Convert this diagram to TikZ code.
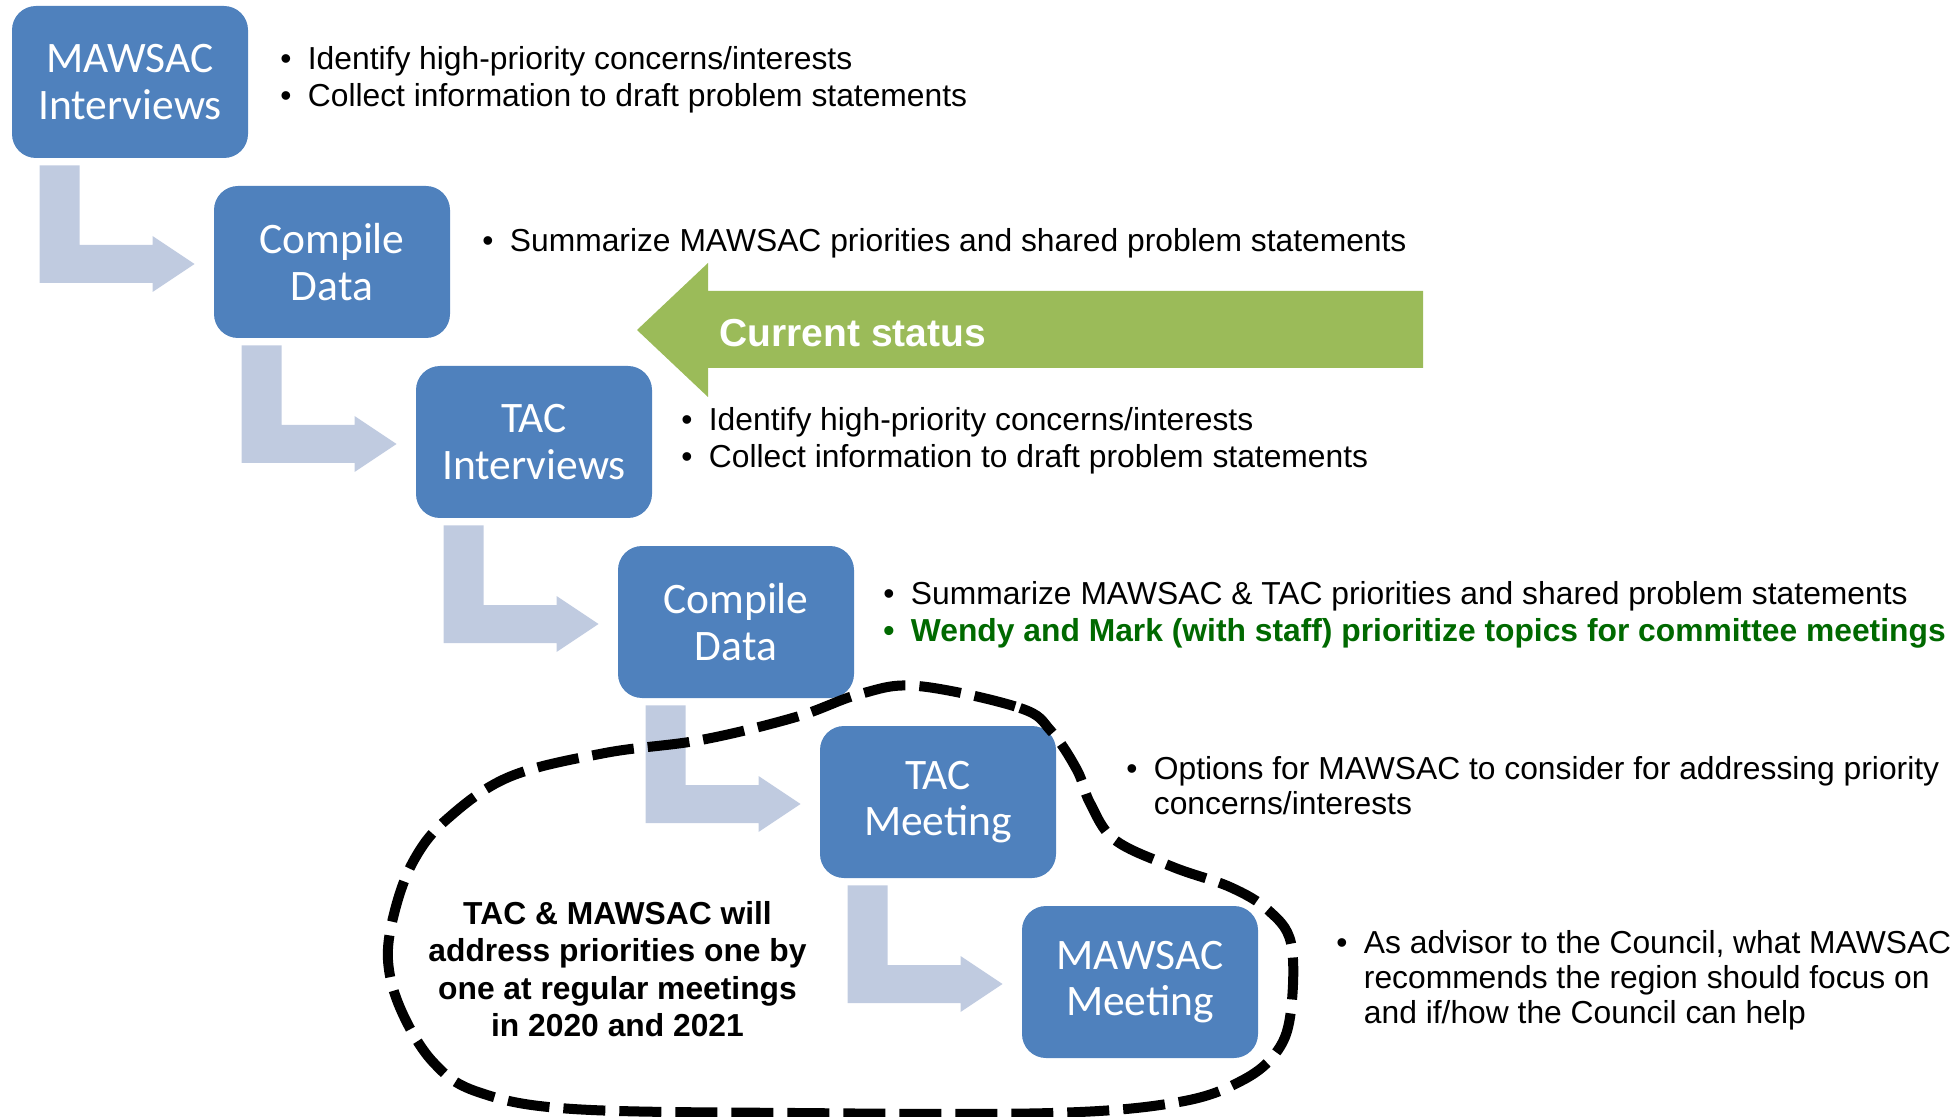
\documentclass[tikz,border=0pt]{standalone}
\usepackage{fontspec}
\setmainfont{Liberation Sans}
\newfontfamily\carlito{Carlito}
\usetikzlibrary{calc}
\definecolor{boxblue}{RGB}{79,129,189}
\definecolor{arrowgray}{RGB}{192,203,224}
\definecolor{statusgreen}{RGB}{155,187,89}
\definecolor{darkgreen}{RGB}{0,105,0}
\newcommand\bul{\makebox[13.75pt][l]{\textbullet}}
\newcommand\hang{\hspace*{13.75pt}}
\newcommand\bentarrow[2]{%
  \fill[arrowgray] let \p1=(#1.south west), \p2=(#2.west) in
  (\x1+14pt,\y1-3.5pt) -- (\x1+34pt,\y1-3.5pt) -- (\x1+34pt,\y2+8.5pt)
  -- (\x2-30.5pt,\y2+8.5pt) -- (\x2-30.5pt,\y2+13pt) -- (\x2-9.5pt,\y2-1pt)
  -- (\x2-30.5pt,\y2-15pt) -- (\x2-30.5pt,\y2-10.5pt) -- (\x1+14pt,\y2-10.5pt) -- cycle;}
\tikzset{
  stepnode/.style={rectangle, rounded corners=12pt, fill=boxblue, text=white,
    minimum width=118pt, minimum height=76pt, inner sep=0pt, align=center,
    font=\carlito\fontsize{21.75}{23.25}\selectfont},
  bullettext/.style={anchor=west, inner sep=0pt, align=left,
    font=\fontsize{15.9}{18.75}\selectfont},
  bullettight/.style={bullettext, font=\fontsize{15.9}{17.5}\selectfont},
  blob/.style={line width=5pt, dash pattern=on 21pt off 7pt},
}
\begin{document}
\begin{tikzpicture}[x=0.5pt,y=-0.5pt]
\useasboundingbox (0,0) rectangle (1960,1117);
% step boxes
\node[stepnode] (b1) at (130,82)  {MAWSAC\\Interviews};
\node[stepnode] (b2) at (332,262) {Compile\\Data};
\node[stepnode] (b3) at (534,442) {TAC\\Interviews};
\node[stepnode] (b4) at (736,622) {Compile\\Data};
\node[stepnode] (b5) at (938,802) {TAC\\Meeting};
\node[stepnode] (b6) at (1140,982) {MAWSAC\\Meeting};
% bent arrows
\bentarrow{b1}{b2}
\bentarrow{b2}{b3}
\bentarrow{b3}{b4}
\bentarrow{b4}{b5}
\bentarrow{b5}{b6}
% current status arrow
\fill[statusgreen] (1423,291) -- (708,291) -- (708,263) -- (637,330) -- (708,397)
  -- (708,368) -- (1423,368) -- cycle;
\node[anchor=west, inner sep=0pt, text=white, font=\bfseries\fontsize{19.5}{22}\selectfont]
  (status) at (719,333) {Current status};
% bullet texts
\node[bullettext] (t1) at (280,80) {\bul Identify high-priority concerns/interests\\\bul Collect information to draft problem statements};
\node[bullettext] (t2) at (482,243) {\bul Summarize MAWSAC priorities and shared problem statements};
\node[bullettext] (t3) at (681,441) {\bul Identify high-priority concerns/interests\\\bul Collect information to draft problem statements};
\node[bullettext] (t4) at (883,615) {\bul Summarize MAWSAC \& TAC priorities and shared problem statements\\{\color{darkgreen}\bfseries\bul Wendy and Mark (with staff) prioritize topics for committee meetings}};
\node[bullettight] (t5) at (1126,786) {\bul Options for MAWSAC to consider for addressing priority\\\hang concerns/interests};
\node[bullettight] (t6) at (1336,980) {\bul As advisor to the Council, what MAWSAC\\\hang recommends the region should focus on\\\hang and if/how the Council can help};
% dashed grouping
\draw[blob] plot[smooth cycle, tension=0.6] coordinates {
 (918,686) (1020,708) (1051,731) (1077,770) (1090,803) (1115,840) (1173,867)
 (1230,887) (1268,910) (1291,943) (1291,1010) (1278,1050) (1243,1080) (1179,1102)
 (1052,1113) (796,1113) (573,1109) (478,1092) (433,1062) (401,1010) (388,960)
 (395,910) (414,860) (446,820) (509,777) (605,753) (701,740) (796,717) (860,694)};
\node[align=center, inner sep=0pt, font=\bfseries\fontsize{15.9}{18.75}\selectfont]
  (group) at (617.5,969) {TAC \& MAWSAC will\\address priorities one by\\one at regular meetings\\in 2020 and 2021};
\end{tikzpicture}
\end{document}
